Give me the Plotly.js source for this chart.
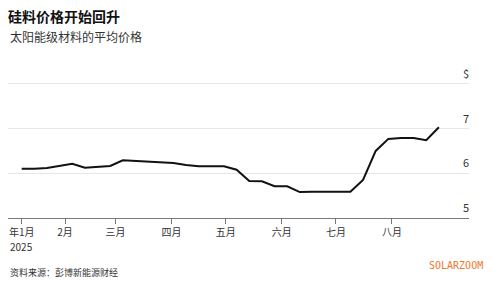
<!DOCTYPE html>
<html>
<head>
<meta charset="utf-8">
<script src="https://cdn.plot.ly/plotly-3.0.1.min.js"></script>
<style>html,body{margin:0;padding:0;background:#fff;}#chart{width:500px;height:291px;}</style>
</head>
<body>
<div id="chart"></div>
<script>
const dates = ['2025-01-08','2025-01-15','2025-01-22','2025-01-29','2025-02-05','2025-02-12','2025-02-19','2025-02-26',
  '2025-03-05','2025-03-12','2025-03-19','2025-03-26','2025-04-02','2025-04-09','2025-04-16','2025-04-23','2025-04-30',
  '2025-05-07','2025-05-14','2025-05-21','2025-05-28','2025-06-04','2025-06-11','2025-06-18','2025-06-25',
  '2025-07-02','2025-07-09','2025-07-16','2025-07-23','2025-07-30','2025-08-06','2025-08-13','2025-08-20','2025-08-27'];
const prices = [6.10,6.10,6.12,6.165,6.215,6.125,6.145,6.163,
  6.29,6.275,6.26,6.237,6.23,6.186,6.157,6.157,6.157,
  6.08,5.83,5.82,5.71,5.71,5.58,5.585,5.59,
  5.59,5.585,5.85,6.50,6.77,6.79,6.79,6.74,7.03];
const xTickVals = ['2025-01-08','2025-02-01','2025-03-01','2025-04-01','2025-05-01','2025-06-01','2025-07-01','2025-08-01'];
const xTickText = ['年1月','2月','三月','四月','五月','六月','七月','八月'];
const yearLabel = '2025';
const yTickVals = [5,6,7,8];
const yTickText = ['5','6','7','$'];
const titleText = '硅料价格开始回升';
const subtitleText = '太阳能级材料的平均价格';
const sourceText = '资料来源：彭博新能源财经';
const brandText = 'SOLARZOOM';

const font = 'Noto Sans CJK SC, Noto Sans, sans-serif';
const W = 500, H = 291, L = 8, R = 31, T = 60, B = 73;
const pw = W - L - R, ph = H - T - B;
const unitPx = 44.7;
const yTop = 5 + ph / unitPx;
const px = x => (x - L) / pw;
const py = y => (H - B - y) / ph;

const trace = {x: dates, y: prices, type: 'scatter', mode: 'lines',
  line: {color: '#111', width: 2}, hoverinfo: 'skip'};
const layout = {
  width: W, height: H,
  margin: {l: L, r: R, t: T, b: B},
  paper_bgcolor: '#fff', plot_bgcolor: '#fff',
  showlegend: false,
  font: {family: font, color: '#333'},
  title: {text: '<b>' + titleText + '</b>', x: 8 / W, xref: 'container', xanchor: 'left',
    y: 1 - 17.5 / H, yref: 'container', yanchor: 'middle', font: {size: 14, color: '#111', family: font}},
  xaxis: {type: 'date', range: ['2024-12-31 10:00', '2025-09-12 16:00'],
    tickvals: xTickVals, ticktext: xTickText, tickmode: 'array',
    showgrid: false, zeroline: false, showline: true, linecolor: '#777', linewidth: 1,
    ticks: 'outside', ticklen: 5, tickcolor: '#777', tickfont: {size: 10, color: '#333', family: font}},
  yaxis: {range: [5, yTop], side: 'right', tickvals: yTickVals, ticktext: yTickText, tickmode: 'array',
    ticklabelposition: 'inside top', ticklabelstandoff: -3, ticklabelshift: -2,
    showgrid: true, gridcolor: '#e6e6e6', gridwidth: 1,
    zeroline: false, showline: false, ticks: '', tickfont: {size: 11, color: '#333', family: font}},
  annotations: [
    {text: subtitleText, xref: 'paper', yref: 'paper', x: 0, y: py(37), xanchor: 'left', yanchor: 'middle',
      showarrow: false, font: {size: 12, color: '#333', family: font}},
    {text: yearLabel, xref: 'x', yref: 'paper', x: xTickVals[0], y: py(246.5), xanchor: 'center', yanchor: 'middle',
      showarrow: false, font: {size: 10, color: '#333', family: font}},
    {text: sourceText, xref: 'paper', yref: 'paper', x: 0, y: py(272.5), xanchor: 'left', yanchor: 'middle',
      showarrow: false, font: {size: 9, color: '#333', family: font}},
    {text: brandText, xref: 'paper', yref: 'paper', x: px(485), y: py(265), xanchor: 'right', yanchor: 'middle',
      showarrow: false, font: {size: 10, color: '#f07828', family: 'DejaVu Sans Mono, monospace'}}
  ]
};
Plotly.newPlot('chart', [trace], layout, {displayModeBar: false, staticPlot: true});
</script>
</body>
</html>
